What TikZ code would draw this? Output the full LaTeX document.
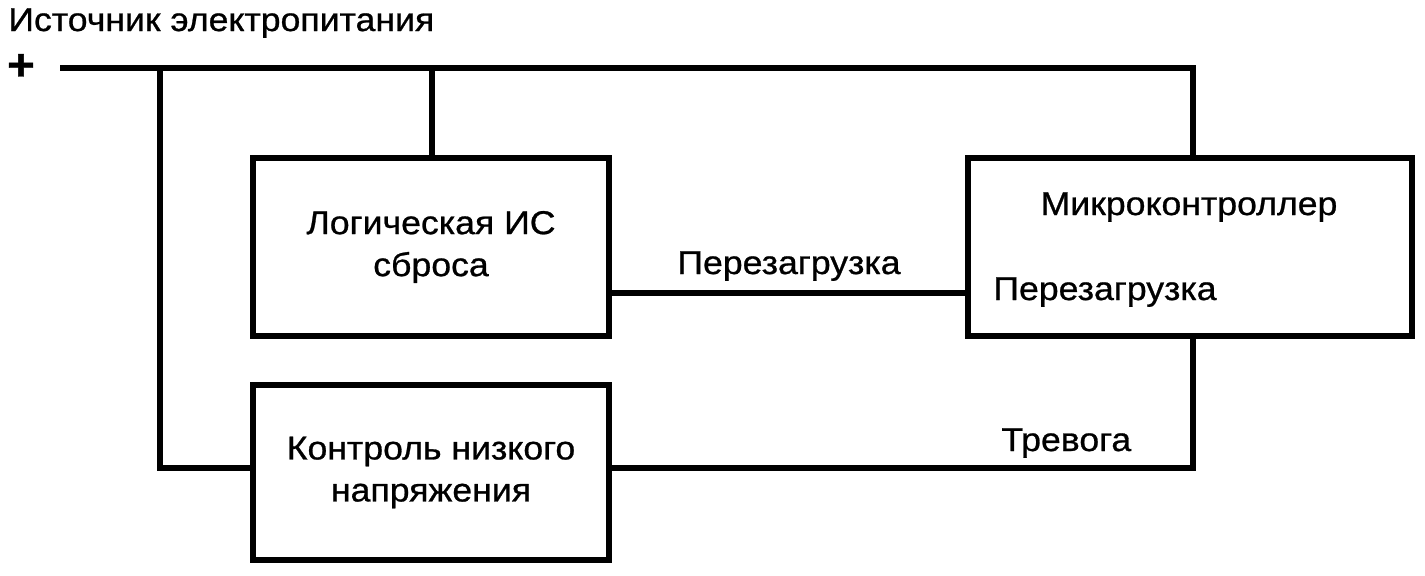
\documentclass[tikz,border=0pt]{standalone}
\usepackage{fontspec}
\setmainfont{Liberation Sans}[FakeStretch=1.08,FakeBold=0.8]
\begin{document}
\begin{tikzpicture}[x=0.5pt,y=-0.5pt,
  box/.style={draw,line width=3pt,inner sep=0pt,align=center},
  wire/.style={line width=3pt},
  lbl/.style={inner sep=0pt,anchor=base west},
  every node/.style={font=\fontsize{16.5}{21}\selectfont}]
\useasboundingbox (0,0) rectangle (1425,575);
\node[lbl] (title) at (8,31) {Источник электропитания};
\node[inner sep=0pt,font=\fontsize{22}{22}\selectfont\bfseries] (plus) at (21,67) {+};
\node[box,minimum width=178pt,minimum height=89pt] (logic) at (431,247) {Логическая ИС\\сброса};
\node[box,minimum width=222pt,minimum height=89pt] (micro) at (1190,247) {};
\node[box,minimum width=178pt,minimum height=87.5pt] (low) at (431,472.5) {Контроль низкого\\напряжения};
\node[inner sep=0pt,anchor=base] (mname) at (1189,215) {Микроконтроллер};
\node[lbl] (mrst) at (993,300) {Перезагрузка};
\node[lbl] (rstl) at (677,274) {Перезагрузка};
\node[lbl] (alarm) at (1001,451) {Тревога};
\coordinate (pstart) at (60,68);
\coordinate (tr) at (1193,68);
\coordinate (j1) at (432,68);
\coordinate (j2) at (160,68);
\coordinate (lowy) at (160,468);
\coordinate (rsty) at (790,293);
\coordinate (aly) at (900,468);
\draw[wire] (pstart) -- (tr) -- (tr |- micro.north);
\draw[wire] (j1) -- (j1 |- logic.north);
\draw[wire] (j2) -- (lowy) -- (low.west |- lowy);
\draw[wire] (logic.east |- rsty) -- (micro.west |- rsty);
\draw[wire] (low.east |- aly) -| (tr |- micro.south);
\end{tikzpicture}
\end{document}
